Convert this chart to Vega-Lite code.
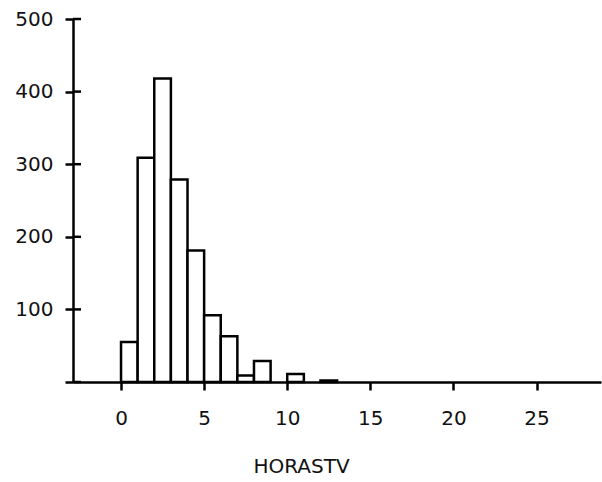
{
  "$schema": "https://vega.github.io/schema/vega-lite/v6.json",
  "width": 528,
  "height": 363,
  "autosize": {"type": "none"},
  "padding": {"left": 73, "top": 19, "right": 1, "bottom": 100},
  "background": "white",
  "config": {
    "view": {"stroke": null},
    "axis": {
      "labelFont": "DejaVu Sans",
      "titleFont": "DejaVu Sans",
      "labelFontSize": 20,
      "titleFontSize": 20,
      "labelColor": "#111111",
      "titleColor": "#111111",
      "titleFontWeight": "normal",
      "domainColor": "black",
      "tickColor": "black",
      "domainWidth": 2.5,
      "tickWidth": 2.5,
      "grid": false
    }
  },
  "datasets": {
    "bins": [
      {"start": 0, "end": 1, "count": 55},
      {"start": 1, "end": 2, "count": 309},
      {"start": 2, "end": 3, "count": 418},
      {"start": 3, "end": 4, "count": 279},
      {"start": 4, "end": 5, "count": 181},
      {"start": 5, "end": 6, "count": 92},
      {"start": 6, "end": 7, "count": 63},
      {"start": 7, "end": 8, "count": 9},
      {"start": 8, "end": 9, "count": 29},
      {"start": 10, "end": 11, "count": 11},
      {"start": 12, "end": 13, "count": 2}
    ],
    "yticks": [
      {"tick": 0}, {"tick": 100}, {"tick": 200}, {"tick": 300}, {"tick": 400}, {"tick": 500}
    ]
  },
  "layer": [
    {
      "data": {"name": "bins"},
      "mark": {"type": "rect", "fill": "white", "stroke": "black", "strokeWidth": 2.5},
      "encoding": {
        "x": {
          "field": "start",
          "type": "quantitative",
          "scale": {"domain": [-2.89, 28.88], "nice": false, "zero": false},
          "axis": {
            "values": [0, 5, 10, 15, 20, 25],
            "tickSize": 8,
            "labelPadding": 18,
            "title": "HORASTV",
            "titleX": 228,
            "titlePadding": 28
          }
        },
        "x2": {"field": "end"},
        "y": {
          "field": "count",
          "type": "quantitative",
          "scale": {"domain": [0, 500], "nice": false},
          "axis": {
            "orient": "left",
            "values": [0, 100, 200, 300, 400, 500],
            "labelExpr": "datum.value == 0 ? '' : datum.label",
            "tickSize": 8,
            "labelPadding": 12,
            "title": null
          }
        }
      }
    },
    {
      "data": {"name": "yticks"},
      "mark": {"type": "rule", "stroke": "black", "strokeWidth": 2.5},
      "encoding": {
        "x": {"datum": -2.89, "type": "quantitative"},
        "x2": {"datum": -2.41},
        "y": {"field": "tick", "type": "quantitative"}
      }
    }
  ]
}
